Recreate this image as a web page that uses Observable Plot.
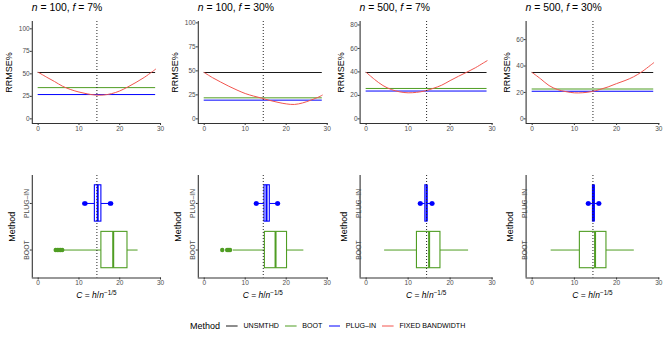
<!DOCTYPE html>
<html><head><meta charset="utf-8">
<script src="https://cdn.jsdelivr.net/npm/d3@7"></script>
<script src="https://cdn.jsdelivr.net/npm/@observablehq/plot@0.6"></script>
<style>
body{margin:0;background:#fff;font-family:"Liberation Sans",Arial,sans-serif;}
#root{position:relative;width:664px;height:343px;overflow:hidden;background:#fff;}
.abs{position:absolute;}
.title{font-size:10.4px;white-space:nowrap;line-height:1;color:#000;}
.xlab{font-size:8.5px;white-space:nowrap;line-height:1;color:#000;transform:translateX(-50%);}
.xlab sup{font-size:0.75em;position:relative;top:-0.45em;vertical-align:baseline;}
.legend{display:flex;align-items:center;height:14px;}
.legend .lt{font-size:9px;}
.legend .key{margin-left:6.4px;width:11.6px;height:2px;display:block;}
.legend .lab{margin-left:5.4px;font-size:7.1px;}
</style></head><body><div id="root"></div>
<script>
// ---- data ----
const titleN = [100, 100, 500, 500];
const titleF = ["7%", "30%", "7%", "30%"];
const methods = ["UNSMTHD", "BOOT", "PLUG–IN", "FIXED BANDWIDTH"];
const unsmthd = [51.5, 48.3, 39.5, 35.1];
const boot = [34.7, 21.9, 25.9, 22.6];
const plugin = [27.0, 19.5, 23.7, 20.9];
const cOpt = 14.4;
const cGrid = [0, 2, 4, 6, 8, 10, 12, 14, 16, 18, 20, 22, 24, 26, 28, 28.8];
const fixedBw1 = [51.8, 46.5, 41.5, 36.2, 32.5, 29.8, 27.8, 26.5, 26.5, 28.0, 31.0, 35.5, 40.5, 46.0, 52.5, 55.2];
const fixedBw2 = [48.3, 43.0, 38.4, 34.0, 30.0, 26.4, 23.8, 21.6, 19.2, 17.2, 15.6, 15.0, 16.6, 19.5, 22.9, 24.7];
const fixedBw3 = [39.7, 33.6, 28.4, 25.0, 23.0, 22.2, 22.6, 23.8, 26.0, 28.7, 32.6, 36.3, 39.8, 43.5, 47.8, 49.5];
const fixedBw4 = [35.1, 30.3, 25.2, 22.2, 20.6, 19.7, 19.8, 20.6, 22.2, 24.2, 26.7, 29.0, 31.8, 35.7, 40.5, 42.5];
const fixedBw = [fixedBw1, fixedBw2, fixedBw3, fixedBw4];
const yTicks = [[0, 25, 50, 75, 100], [0, 25, 50, 75, 100], [0, 20, 40, 60, 80], [0, 20, 40, 60]];
const xTicks = [0, 10, 20, 30];
// boxplot summaries of selected C
const bootLo = [6.3, 7.1, 4.4, 4.5];
const bootQ1 = [15.5, 14.8, 12.1, 11.3];
const bootMed = [18.4, 17.4, 15.0, 14.9];
const bootQ3 = [21.9, 20.2, 17.7, 17.6];
const bootHi = [24.5, 24.3, 24.4, 24.2];
const bootOut = [[4.3, 4.7, 5.1, 5.5, 5.9], [4.4, 5.6, 6.0, 6.3], [], []];
const plugLo = [11.7, 12.9, 13.0, 13.4];
const plugQ1 = [13.9, 14.7, 14.1, 14.4];
const plugMed = [14.6, 15.2, 14.4, 14.6];
const plugQ3 = [15.5, 16.0, 14.6, 14.8];
const plugHi = [17.5, 17.7, 15.5, 15.6];
const plugOut = [[11.3, 11.6, 17.6, 17.9], [12.6, 12.8, 17.8, 18.0], [12.8, 13.0, 15.6, 15.8], [13.2, 13.4, 15.7, 15.9]];

// ---- style ----
const C_BLACK = "#1a1a1a", C_GREEN = "#4f9d23", C_BLUE = "#0000ff", C_RED = "#f2554f";
const methodColors = [C_BLACK, C_GREEN, C_BLUE, C_RED];
const xDomain = [-1.44, 30.24];
const cMax = 28.8;
const colW = 166;
const mLeft = [31.8, 31.8, 27.6, 27.6];
const mRight = [5.0, 4.3, 5.4, 4.7];
const AX = "#333333";
const FONT = "Liberation Sans, Arial, sans-serif";

const root = document.getElementById("root");
function place(el, left, top) {
  el.style.position = "absolute"; el.style.left = left + "px"; el.style.top = top + "px";
  root.appendChild(el);
}
function axisStyle() {
  return {fontFamily: FONT, fontSize: "6.5px", color: "#4d4d4d", background: "transparent", overflow: "visible"};
}

for (let i = 0; i < 4; i++) {
  const U = unsmthd[i];
  const yDom = [-0.1 * U, 2.1 * U];
  const red = cGrid.map((c, j) => ({c, v: fixedBw[i][j]}));
  const top = Plot.plot({
    width: colW, height: 140,
    marginTop: 21, marginBottom: 17, marginLeft: mLeft[i], marginRight: mRight[i],
    style: axisStyle(),
    x: {domain: xDomain},
    y: {domain: yDom},
    marks: [
      Plot.axisX({ticks: xTicks, tickSize: 2, tickPadding: 0.5, stroke: AX, label: null, fontSize: 6.5}),
      Plot.axisY({ticks: yTicks[i], tickSize: 2, tickPadding: 0.6, stroke: AX, label: null, fontSize: 6.5}),
      Plot.ruleY([unsmthd[i]], {x1: 0, x2: cMax, stroke: C_BLACK, strokeWidth: 1}),
      Plot.ruleY([boot[i]], {x1: 0, x2: cMax, stroke: C_GREEN, strokeWidth: 1}),
      Plot.ruleY([plugin[i]], {x1: 0, x2: cMax, stroke: C_BLUE, strokeWidth: 1}),
      Plot.line(red, {x: "c", y: "v", stroke: C_RED, strokeWidth: 1, curve: "catmull-rom"}),
      Plot.ruleX([cOpt], {stroke: "#222", strokeWidth: 1, strokeDasharray: "1,2"}),
      Plot.ruleX([xDomain[0]], {stroke: AX, strokeWidth: 1.1}),
      Plot.ruleY([yDom[0]], {stroke: AX, strokeWidth: 1.1}),
      Plot.text(["RRMSE%"], {frameAnchor: "left", textAnchor: "middle", lineAnchor: "middle", rotate: -90, dx: -(mLeft[i] - 8.3), fontSize: 9, fill: "#000"})
    ]
  });
  place(top, colW * i, 0);

  const t = document.createElement("div");
  t.className = "title";
  t.innerHTML = `<i>n</i> = ${titleN[i]}, <i>f</i> = ${titleF[i]}`;
  place(t, colW * i + mLeft[i], 3.4);

  // bottom boxplots
  const hw = 0.39;
  const boxes = [
    {pos: 1, color: C_GREEN, lo: bootLo[i], q1: bootQ1[i], med: bootMed[i], q3: bootQ3[i], hi: bootHi[i], out: bootOut[i]},
    {pos: 2, color: C_BLUE, lo: plugLo[i], q1: plugQ1[i], med: plugMed[i], q3: plugQ3[i], hi: plugHi[i], out: plugOut[i]}
  ];
  const bmarks = [
    Plot.axisX({ticks: xTicks, tickSize: 2, tickPadding: 0.5, stroke: AX, label: null, fontSize: 6.5}),
    Plot.axisY({ticks: [1, 2], tickSize: 2, tickFormat: () => "", stroke: AX, label: null})
  ];
  for (const b of boxes) {
    bmarks.push(
      Plot.ruleY([b], {y: b.pos, x1: "lo", x2: "q1", stroke: b.color, strokeWidth: 1}),
      Plot.ruleY([b], {y: b.pos, x1: "q3", x2: "hi", stroke: b.color, strokeWidth: 1}),
      Plot.rect([b], {x1: "q1", x2: "q3", y1: b.pos - hw, y2: b.pos + hw, fill: "white", stroke: b.color, strokeWidth: 1.1}),
      Plot.ruleX([b], {x: "med", y1: b.pos - hw, y2: b.pos + hw, stroke: b.color, strokeWidth: 2}),
      Plot.dot(b.out, {x: d => d, y: b.pos, r: 2.2, fill: b.color, stroke: "none"})
    );
  }
  bmarks.push(
    Plot.ruleX([cOpt], {stroke: "#222", strokeWidth: 1, strokeDasharray: "1,2"}),
    Plot.ruleX([xDomain[0]], {stroke: AX, strokeWidth: 1.1}),
    Plot.ruleY([0.4], {stroke: AX, strokeWidth: 1.1}),
    Plot.text(["BOOT", "PLUG–IN"], {y: [1, 2], text: d => d, frameAnchor: "left", textAnchor: "middle", lineAnchor: "middle", rotate: -90, dx: -(mLeft[i] - 26), fontSize: 6.8, fill: "#4d4d4d"}),
    Plot.text(["Method"], {frameAnchor: "left", textAnchor: "middle", lineAnchor: "middle", rotate: -90, dx: -(mLeft[i] - 12), fontSize: 9, fill: "#000"})
  );
  const bot = Plot.plot({
    width: colW, height: 140,
    marginTop: 15, marginBottom: 22.5, marginLeft: mLeft[i], marginRight: mRight[i],
    style: axisStyle(),
    x: {domain: xDomain},
    y: {domain: [0.4, 2.6]},
    marks: bmarks
  });
  place(bot, colW * i, 160);

  const xl = document.createElement("div");
  xl.className = "xlab";
  xl.innerHTML = `<i>C</i> = <i>h</i>/<i>n</i><sup>−1/5</sup>`;
  const plotW = colW - mLeft[i] - mRight[i];
  place(xl, colW * i + mLeft[i] + plotW / 2, 291);
}

// legend
const lg = document.createElement("div");
lg.className = "legend";
let html = `<span class="lt">Method</span>`;
methods.forEach((m, k) => {
  html += `<svg class="key" width="11.6" height="2"><line x1="0" x2="11.6" y1="1" y2="1" stroke="${methodColors[k]}" stroke-width="1"/></svg><span class="lab">${m}</span>`;
});
lg.innerHTML = html;
place(lg, 190, 319);
</script></body></html>
